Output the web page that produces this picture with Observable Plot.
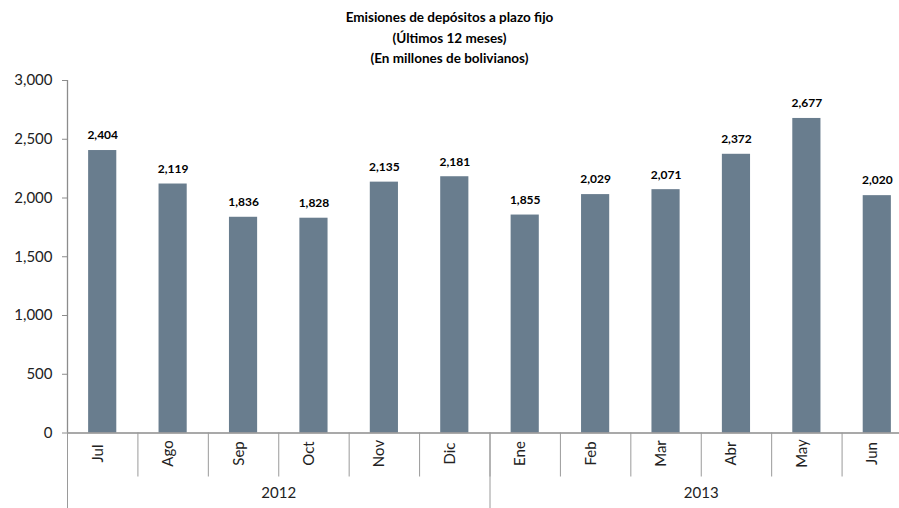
<!DOCTYPE html>
<html><head><meta charset="utf-8">
<script src="https://cdn.jsdelivr.net/npm/d3@7"></script>
<script src="https://cdn.jsdelivr.net/npm/@observablehq/plot@0.6"></script>
<style>
body{margin:0;background:#fff;font-family:Lato,sans-serif;}
#title{width:899px;height:70px;box-sizing:border-box;padding-top:7px;text-align:center;font-weight:bold;font-size:13.5px;line-height:20.5px;color:#000;}
</style></head><body>
<div id="title"><div>Emisiones de depósitos a plazo fijo</div><div>(Últimos 12 meses)</div><div>(En millones de bolivianos)</div></div>
<div id="chart"></div>
<script>
const months = ["Jul","Ago","Sep","Oct","Nov","Dic","Ene","Feb","Mar","Abr","May","Jun"];
const values = [2404,2119,1836,1828,2135,2181,1855,2029,2071,2372,2677,2020];
const years = ["2012","2013"];
const monthsPerYear = [6,6];
const yTicks = [0,500,1000,1500,2000,2500,3000];

const data = months.map((m,i)=>({month:m, value:values[i], i}));
let acc = 0;
const yearData = years.map((y,k)=>{const s=acc; acc+=monthsPerYear[k]; return {year:y, start:s, end:acc};});
const yearBounds = [0, ...yearData.map(d=>d.end)];
const monthBounds = d3.range(0, months.length+1);
const fmt = d3.format(",");

const chart = Plot.plot({
  width: 899, height: 438,
  marginTop: 10, marginBottom: 75.5, marginLeft: 67, marginRight: 0,
  style: {fontFamily: "Lato, sans-serif", background: "white", overflow: "hidden"},
  x: {domain: [0, months.length], range: [67, 912], axis: null},
  y: {domain: [0, 3000], label: null},
  marks: [
    Plot.rectY(data, {x1: d=>d.i+0.3, x2: d=>d.i+0.7, y1: 0, y2: "value", fill: "#697d8e"}),
    Plot.ruleY([0], {stroke: "#8c8c8c", strokeWidth: 1.3}),
    Plot.ruleX([0], {stroke: "#8c8c8c", strokeWidth: 1.3}),
    Plot.ruleX(monthBounds, {x: d=>d, y1: 0, y2: 0, insetBottom: -44, stroke: "#9a9a9a"}),
    Plot.ruleX(yearBounds, {x: d=>d, y1: 0, y2: 0, insetBottom: -75.5, stroke: "#9a9a9a"}),
    Plot.axisY({ticks: yTicks, tickSize: 5, tickPadding: 10, tickFormat: fmt, fontSize: 15, stroke: "#8c8c8c", fill: "#222", label: null}),
    Plot.text(data, {x: d=>d.i+0.5, y: "value", text: d=>fmt(d.value), dy: -15, fontWeight: "bold", fontSize: 12, fill: "#000"}),
    Plot.text(data, {x: d=>d.i+0.5, frameAnchor: "bottom", text: "month", rotate: -90, dy: 20.5, fontSize: 15, fill: "#222"}),
    Plot.text(yearData, {x: d=>(d.start+d.end)/2, frameAnchor: "bottom", text: "year", dy: 64.5, fontSize: 15, fill: "#222"})
  ]
});
document.getElementById("chart").appendChild(chart);
</script>
</body></html>
